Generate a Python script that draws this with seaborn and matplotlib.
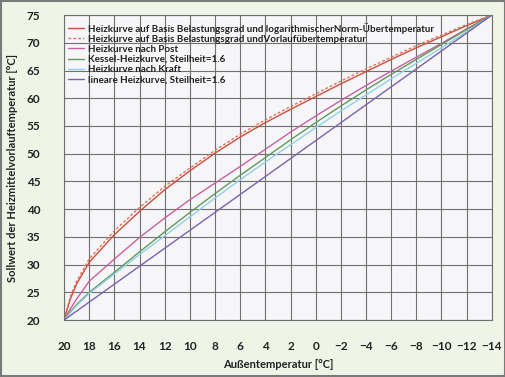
import matplotlib
matplotlib.use("Agg")
import matplotlib.pyplot as plt
import seaborn as sns
import pandas as pd
from matplotlib.patches import Rectangle

# Outside temperature (x) in °C
x_vals = [20, 19.5, 19, 18, 16, 14, 12, 10, 8, 6, 4, 2, 0, -2, -4, -6, -8, -10, -12, -14]

red_log = [20, 23.8, 26.5, 30.4, 35.4, 39.6, 43.5, 46.9, 50.1, 53.0, 55.6, 58.0, 60.3, 62.6, 64.8, 67.0, 69.1, 71.1, 73.1, 75]
red_vl = [20, 24.2, 27.0, 31.0, 36.1, 40.3, 44.1, 47.4, 50.6, 53.5, 56.1, 58.5, 60.8, 63.1, 65.3, 67.4, 69.5, 71.4, 73.3, 75]
post = [20, 22.0, 23.8, 27.0, 31.0, 34.9, 38.4, 41.7, 44.7, 47.7, 50.8, 53.9, 56.8, 59.6, 62.3, 64.9, 67.4, 69.9, 72.5, 75]
kessel = [20, 21.5, 22.8, 25.0, 28.6, 32.3, 35.9, 39.4, 42.8, 46.1, 49.3, 52.5, 55.6, 58.6, 61.5, 64.3, 67.0, 69.7, 72.4, 75]
kraft = [20, 21.3, 22.6, 24.8, 28.3, 31.8, 35.2, 38.6, 42.0, 45.3, 48.5, 51.6, 54.7, 57.7, 60.6, 63.5, 66.3, 69.1, 72.0, 75]
linear = [20, 20.81, 21.62, 23.24, 26.47, 29.71, 32.94, 36.18, 39.41, 42.65, 45.88, 49.12, 52.35, 55.59, 58.82, 62.06, 65.29, 68.53, 71.76, 75]

labels = [
    "Heizkurve auf Basis Belastungsgrad und logarithmischerNorm-Übertemperatur",
    "Heizkurve auf Basis Belastungsgrad undVorlaufübertemperatur",
    "Heizkurve nach Post",
    "Kessel-Heizkurve, Steilheit=1.6",
    "Heizkurve nach Kraft",
    "lineare Heizkurve, Steilheit=1.6",
]
series = [red_log, red_vl, post, kessel, kraft, linear]
colors = ["#c9503a", "#e0705a", "#c8609e", "#5f9a5c", "#92d0e6", "#7a62ad"]
styles = ["-", (0, (2, 1.5)), "-", "-", "-", "-"]

x_ticks = [20, 18, 16, 14, 12, 10, 8, 6, 4, 2, 0, -2, -4, -6, -8, -10, -12, -14]
y_ticks = [20, 25, 30, 35, 40, 45, 50, 55, 60, 65, 70, 75]

sns.set_theme(style="white")
plt.rcParams["font.family"] = ["Lato", "DejaVu Sans"]
plt.rcParams["axes.unicode_minus"] = True

fig = plt.figure(figsize=(5.06, 3.77), dpi=100)
fig.patch.set_facecolor("#eef5e7")
ax = fig.add_axes([0.1265, 0.151, 0.8455, 0.809])
ax.set_facecolor("#f6f6f8")

for lab, ys, c, ls in zip(labels, series, colors, styles):
    df = pd.DataFrame({"x": x_vals, "y": ys})
    sns.lineplot(data=df, x="x", y="y", ax=ax, color=c, linestyle=ls,
                 linewidth=1.0, label=lab, sort=False)

ax.set_xlim(20, -14)
ax.set_ylim(20, 75)
ax.set_xticks(x_ticks)
ax.set_yticks(y_ticks)
ax.set_xticklabels([str(t).replace("-", "\u2212") for t in x_ticks])
ax.grid(True, color="#707070", linewidth=0.8)
ax.set_axisbelow(True)
for s in ax.spines.values():
    s.set_color("#707070")
    s.set_linewidth(0.8)
ax.tick_params(axis="x", length=10, width=1.0, color="#8a8a8a",
               labelsize=8.5, pad=5, direction="out")
ax.tick_params(axis="y", length=12, width=1.0, color="#8a8a8a",
               labelsize=8.5, pad=5, direction="out")
for t in ax.get_xticklabels() + ax.get_yticklabels():
    t.set_fontweight("bold")
    t.set_color("#222222")

ax.set_xlabel("Außentemperatur [°C]", fontsize=8, fontweight="bold", labelpad=5, color="#222222")
ax.set_ylabel("Sollwert der Heizmittelvorlauftemperatur [°C]", fontsize=8,
              fontweight="bold", labelpad=6, color="#222222")

leg = ax.legend(loc="upper left", bbox_to_anchor=(0.0, 0.99), frameon=False,
                fontsize=7.1, handlelength=1.6, handletextpad=0.4,
                labelspacing=0.12, borderaxespad=0.3, borderpad=0.15)
for t in leg.get_texts():
    t.set_fontweight("bold")
    t.set_color("#222222")

fig.patches.append(Rectangle((0.002, 0.003), 0.996, 0.994, transform=fig.transFigure,
                             fill=False, edgecolor="#7a7a7a", linewidth=1.5))

fig.savefig("out.png", dpi=100, facecolor=fig.get_facecolor())
